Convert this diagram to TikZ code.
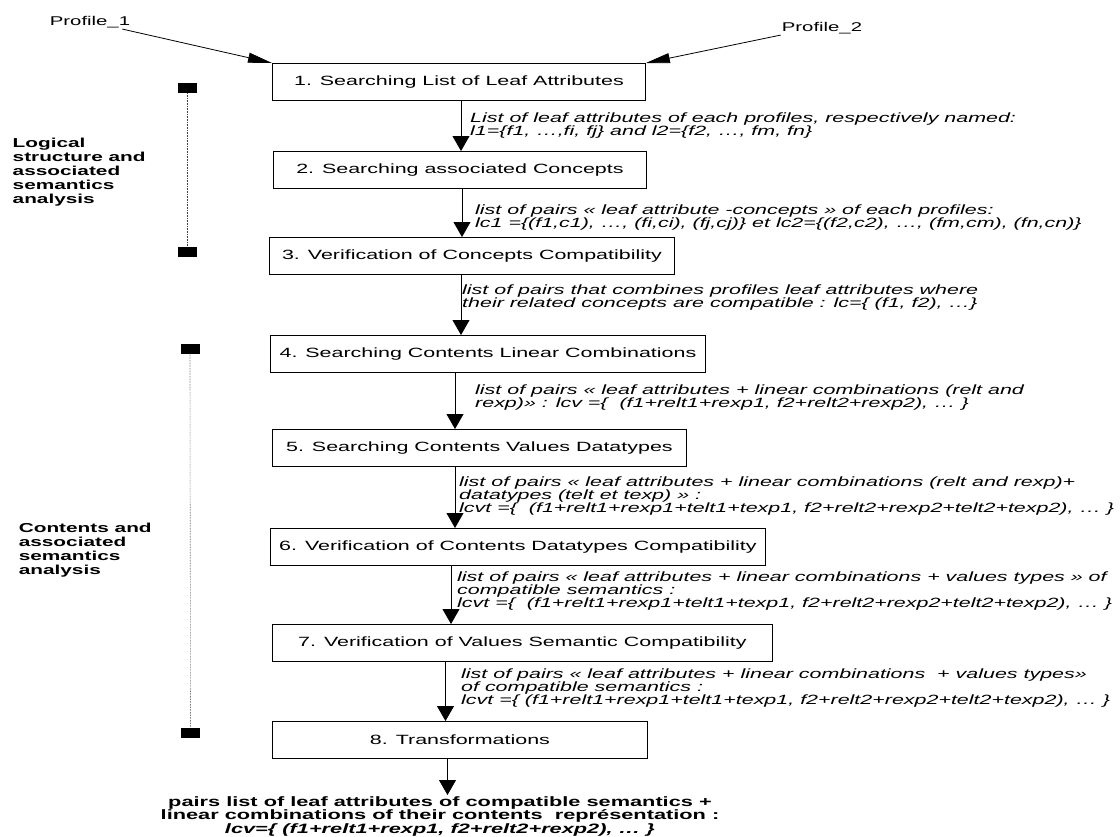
\documentclass[tikz,border=0pt]{standalone}
\usepackage{fontspec}
\setmainfont{Liberation Sans}[FakeStretch=1.6]
\usetikzlibrary{arrows.meta}
\usetikzlibrary{calc}

\begin{document}
\begin{tikzpicture}[x=1pt,y=-1pt,
    box/.style={draw, line width=0.9pt, anchor=north west, inner sep=0pt, minimum height=36.5pt, font=\fontsize{13.4}{16}\selectfont},
    note/.style={anchor=north west, inner sep=0pt, align=left, font=\fontsize{13.4}{13}\selectfont\itshape},
    group/.style={anchor=north west, inner sep=0pt, align=left, font=\fontsize{13}{14}\selectfont\bfseries},
    stopper/.style={fill=black, inner sep=0pt, minimum width=19pt, minimum height=10pt},
    guide/.style={densely dotted, line width=0.6pt, black!75},
    flow/.style={-{Triangle[length=15pt,width=17pt]}, line width=0.8pt},
    feed/.style={-{Triangle[length=24pt,width=10pt]}, line width=0.8pt}]
        \useasboundingbox (0,0) rectangle (1120,836);

        \node[font=\fontsize{12.7}{14}\selectfont, inner sep=1pt] (p1) at (90,22) {Profile\_1};
        \node[font=\fontsize{12.7}{14}\selectfont, inner sep=1pt] (p2) at (822,28) {Profile\_2};

        \node[box, minimum width=373pt] (b1) at (272,63) {1. Searching List of Leaf Attributes};
        \node[box, minimum width=373pt] (b2) at (273,151) {2. Searching associated Concepts};
        \node[box, minimum width=405pt] (b3) at (269,237) {3. Verification of Concepts Compatibility};
        \node[box, minimum width=435pt] (b4) at (270,335) {4. Searching Contents Linear Combinations};
        \node[box, minimum width=414pt] (b5) at (272,429) {5. Searching Contents Values Datatypes};
        \node[box, minimum width=495pt] (b6) at (270,528) {6. Verification of Contents Datatypes Compatibility};
        \node[box, minimum width=500pt] (b7) at (272,624) {7. Verification of Values Semantic Compatibility};
        \node[box, minimum width=375pt] (b8) at (272,721) {8. Transformations};

        \node[note] (n1) at (470,112.5) {List of leaf attributes of each profiles, respectively named:\\l1=\{f1, …,fi, fj\} and l2=\{f2, …, fm, fn\}};
        \node[note] (n2) at (475,204.5) {list of pairs « leaf attribute -concepts » of each profiles:\\lc1 =\{(f1,c1), …, (fi,ci), (fj,cj)\} et lc2=\{(f2,c2), …, (fm,cm), (fn,cn)\}};
        \node[note] (n3) at (462,284.5) {list of pairs that combines profiles leaf attributes where\\their related concepts are compatible : lc=\{ (f1, f2), …\}};
        \node[note] (n4) at (475,384.5) {list of pairs « leaf attributes + linear combinations (relt and\\rexp)» : lcv =\{ ~(f1+relt1+rexp1, f2+relt2+rexp2), … \}};
        \node[note] (n5) at (459,476.5) {list of pairs « leaf attributes + linear combinations (relt and rexp)+\\datatypes (telt et texp) » :\\lcvt =\{ ~(f1+relt1+rexp1+telt1+texp1, f2+relt2+rexp2+telt2+texp2), … \}};
        \node[note] (n6) at (457,571.5) {list of pairs « leaf attributes + linear combinations + values types » of\\compatible semantics :\\lcvt =\{ ~(f1+relt1+rexp1+telt1+texp1, f2+relt2+rexp2+telt2+texp2), … \}};
        \node[note] (n7) at (461,668.5) {list of pairs « leaf attributes + linear combinations ~+ values types»\\of compatible semantics :\\lcvt =\{ (f1+relt1+rexp1+telt1+texp1, f2+relt2+rexp2+telt2+texp2), … \}};

        \node[font=\fontsize{13.6}{12.3}\selectfont\bfseries, align=center, anchor=north, inner sep=1pt] (out) at (440,795) {pairs list of leaf attributes of compatible semantics +\\linear combinations of their contents ~représentation :\\\textit{lcv=\{ (f1+relt1+rexp1, f2+relt2+rexp2), … \}}};

        \node[group] (l1) at (12.5,138) {Logical\\structure and\\associated\\semantics\\analysis};
        \node[group] (l2) at (18.6,523) {Contents and\\associated\\semantics\\analysis};

        \node[stopper] (g1a) at (187,88) {};
        \node[stopper] (g1b) at (187,252) {};
        \node[stopper] (g2a) at (190,348.5) {};
        \node[stopper] (g2b) at (190.5,733) {};
        \draw[guide] (g1a.south) -- (g1b.north);
        \draw[guide] (g2a.south) -- (g2b.north);

        \draw[feed] ([xshift=-9pt]p1.south east) -- (b1.north west);
        \draw[feed] (p2.south west) -- (b1.north east);
        \draw[flow] ($(b1.south west)+(189,0)$) -- ($(b1.south west |- b2.north)+(189,0)$);
        \draw[flow] ($(b2.south west)+(189,0)$) -- ($(b2.south west |- b3.north)+(189,0)$);
        \draw[flow] ($(b3.south west)+(192,0)$) -- ($(b3.south west |- b4.north)+(192,0)$);
        \draw[flow] ($(b4.south west)+(185,0)$) -- ($(b4.south west |- b5.north)+(185,0)$);
        \draw[flow] ($(b5.south west)+(183,0)$) -- ($(b5.south west |- b6.north)+(183,0)$);
        \draw[flow] ($(b6.south west)+(181,0)$) -- ($(b6.south west |- b7.north)+(181,0)$);
        \draw[flow] ($(b7.south west)+(173.5,0)$) -- ($(b7.south west |- b8.north)+(173.5,0)$);
        \draw[flow] ($(b8.south west)+(175.5,0)$) -- ($(b8.south west |- out.north)+(175.5,0)$);
    \end{tikzpicture}
\end{document}
